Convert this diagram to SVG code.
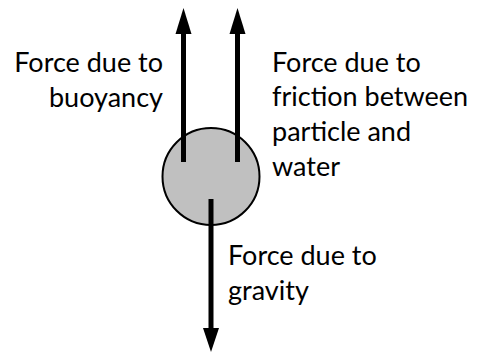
<svg xmlns="http://www.w3.org/2000/svg" width="478" height="353" viewBox="0 0 478 353">
<style>
text{font-family:Lato,"Liberation Sans",sans-serif;font-size:27px;fill:#000}
.ln{stroke:#000;stroke-width:5;fill:none}
.hd{fill:#000}
</style>
<rect width="478" height="353" fill="#fff"/>
<g id="particle"><circle cx="211" cy="176.5" r="48.5" fill="#c0c0c0" stroke="#000" stroke-width="2"/></g>
<g id="connectors">
<line class="ln" x1="183.5" y1="162" x2="183.5" y2="32"/>
<polygon class="hd" points="175.5,34 183.5,8 191.5,34"/>
<line class="ln" x1="237.5" y1="162" x2="237.5" y2="32"/>
<polygon class="hd" points="229.5,34 237.5,8 245.5,34"/>
<line class="ln" x1="211" y1="199" x2="211" y2="330"/>
<polygon class="hd" points="203,328 211,352 219,328"/>
</g>
<g id="label-buoyancy"><text x="163" y="72" text-anchor="end">Force due to</text><text x="163" y="107" text-anchor="end">buoyancy</text></g>
<g id="label-friction"><text x="272" y="72">Force due to</text><text x="272" y="106">friction between</text><text x="272" y="141">particle and</text><text x="272" y="176">water</text></g>
<g id="label-gravity"><text x="228" y="265">Force due to</text><text x="228" y="300">gravity</text></g>
</svg>
